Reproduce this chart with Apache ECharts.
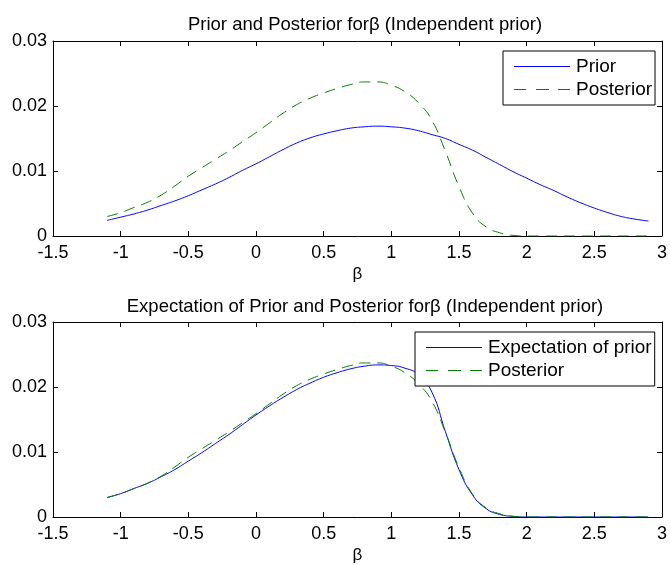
<!DOCTYPE html>
<html>
<head>
<meta charset="utf-8">
<script src="https://cdn.jsdelivr.net/npm/echarts@6/dist/echarts.min.js"></script>
<style>
  html, body { margin: 0; padding: 0; background: #fff; }
  #chart { width: 670px; height: 565px; }
</style>
</head>
<body>
<div id="chart"></div>
<script>
  // beta grid (x values)
  var betaGrid = [-1.1, -1.0, -0.9, -0.8, -0.7, -0.6, -0.5, -0.4, -0.3, -0.2, -0.1,
    0.0, 0.1, 0.2, 0.3, 0.4, 0.5, 0.6, 0.7, 0.8, 0.9,
    1.0, 1.1, 1.2, 1.3, 1.4, 1.5, 1.6, 1.7, 1.8, 1.9,
    2.0, 2.1, 2.2, 2.3, 2.4, 2.5, 2.6, 2.7, 2.8, 2.9]

  var priorVals = [0.0024, 0.0029, 0.0034, 0.0040, 0.0047, 0.0054, 0.0062, 0.0071, 0.0080, 0.0090, 0.0101,
    0.0111, 0.0122, 0.0133, 0.0143, 0.0151, 0.0157, 0.0162, 0.0166, 0.0168, 0.0169,
    0.0168, 0.0166, 0.0162, 0.0156, 0.0150, 0.0141, 0.0132, 0.0121, 0.0110, 0.0099,
    0.0089, 0.0079, 0.0070, 0.0060, 0.0051, 0.0043, 0.0036, 0.0030, 0.0026, 0.0023]

  var posteriorVals = [0.0030, 0.0036, 0.0044, 0.0052, 0.0063, 0.0077, 0.0092, 0.0105, 0.0118, 0.0131, 0.0145,
    0.0159, 0.0174, 0.0189, 0.0202, 0.0212, 0.0220, 0.0227, 0.0233, 0.0237, 0.0237,
    0.0232, 0.0222, 0.0205, 0.0178, 0.0130, 0.0076, 0.0035, 0.0014, 0.0005, 0.0001,
    0, 0, 0, 0, 0, 0, 0, 0, 0, 0]

  var expectVals = [0.0030, 0.0036, 0.0044, 0.0052, 0.0062, 0.0073, 0.0086, 0.0099, 0.0113, 0.0127, 0.0142,
    0.0157, 0.0171, 0.0184, 0.0196, 0.0206, 0.0215, 0.0222, 0.0228, 0.0232, 0.0234,
    0.0233, 0.0229, 0.0219, 0.0192, 0.0131, 0.0073, 0.0034, 0.0013, 0.0004, 0.0001,
    0, 0, 0, 0, 0, 0, 0, 0, 0, 0]

  var xTicks = { min: -1.5, max: 3, interval: 0.5 }
  var yTicks = { min: 0, max: 0.03, interval: 0.01 }

  var font = 'Liberation Sans, Arial, sans-serif'
  var blue = '#0000ff'
  var green = '#008000'
  var dash = [11, 7]
  // legend line samples, 56 x 1
  var solidIcon = 'path://M0,0h56v1h-56z'
  var dashIcon = 'path://M0,0h12v1h-12zM22,0h13v1h-13zM44,0h12v1h-12z'

  function pairs (ys) {
    return betaGrid.map(function (x, i) { return [x, ys[i]] })
  }

  // bottom/left axes with labels, top/right axes just for the box + ticks
  function xAxisFor (gridIndex, shown) {
    return {
      type: 'value',
      gridIndex: gridIndex,
      position: shown ? 'bottom' : 'top',
      min: xTicks.min,
      max: xTicks.max,
      interval: xTicks.interval,
      name: shown ? 'β' : '',
      nameLocation: 'middle',
      nameGap: 30,
      nameTextStyle: { color: '#000', fontSize: 17, fontFamily: font },
      axisLine: { onZero: false, lineStyle: { color: '#000', width: 1 } },
      axisTick: { inside: true, length: 5, lineStyle: { color: '#000' } },
      axisLabel: { show: shown, color: '#000', fontSize: 18, fontFamily: font, margin: 8 },
      splitLine: { show: false }
    }
  }
  function yAxisFor (gridIndex, shown) {
    return {
      type: 'value',
      gridIndex: gridIndex,
      position: shown ? 'left' : 'right',
      min: yTicks.min,
      max: yTicks.max,
      interval: yTicks.interval,
      axisLine: { onZero: false, lineStyle: { color: '#000', width: 1 } },
      axisTick: { inside: true, length: 5, lineStyle: { color: '#000' } },
      axisLabel: { show: shown, color: '#000', fontSize: 18, fontFamily: font, margin: 6 },
      splitLine: { show: false }
    }
  }
  function line (name, ys, axisIndex, color, dashed) {
    return {
      name: name,
      type: 'line',
      xAxisIndex: axisIndex,
      yAxisIndex: axisIndex,
      data: pairs(ys),
      symbol: 'none',
      smooth: 0.5,
      lineStyle: { color: color, width: 1, type: dashed ? dash : 'solid' },
      itemStyle: { color: color },
      animation: false
    }
  }
  function legendItem (name, color, dashed) {
    return {
      name: name,
      icon: dashed ? dashIcon : solidIcon,
      itemStyle: { color: color, borderWidth: 0 }
    }
  }
  function legendFor (items, left, top) {
    return {
      data: items,
      orient: 'vertical',
      left: left,
      top: top,
      itemWidth: 56,
      itemHeight: 1,
      itemGap: 4,
      symbolKeepAspect: false,
      padding: [6, 3, 6, 11],
      borderColor: '#000',
      borderWidth: 1,
      backgroundColor: '#fff',
      selectedMode: false,
      textStyle: { color: '#000', fontSize: 19, lineHeight: 19, fontFamily: font, padding: [0, 0, 0, 1] }
    }
  }

  var option = {
    backgroundColor: '#fff',
    animation: false,
    title: [
      {
        text: 'Prior and Posterior forβ (Independent prior)',
        left: 360,
        top: 10,
        textAlign: 'center',
        textStyle: { color: '#000', fontSize: 18.5, fontWeight: 'normal', fontFamily: font }
      },
      {
        text: 'Expectation of Prior and Posterior forβ (Independent prior)',
        left: 360,
        top: 292,
        textAlign: 'center',
        textStyle: { color: '#000', fontSize: 18.5, fontWeight: 'normal', fontFamily: font }
      }
    ],
    grid: [
      { left: 53, right: 4, top: 41, height: 195 },
      { left: 53, right: 4, top: 322, height: 195 }
    ],
    xAxis: [xAxisFor(0, true), xAxisFor(1, true), xAxisFor(0, false), xAxisFor(1, false)],
    yAxis: [yAxisFor(0, true), yAxisFor(1, true), yAxisFor(0, false), yAxisFor(1, false)],
    legend: [
      legendFor([legendItem('Prior', blue, false), legendItem('Posterior', green, true)], 503, 51),
      legendFor([legendItem('Expectation of prior', blue, false), legendItem('Posterior', green, true)], 415, 332)
    ],
    series: [
      line('Prior', priorVals, 0, blue, false),
      line('Posterior', posteriorVals, 0, green, true),
      line('Expectation of prior', expectVals, 1, blue, false),
      line('Posterior', posteriorVals, 1, green, true)
    ]
  }

  var chart = echarts.init(document.getElementById('chart'))
  chart.setOption(option)
</script>
</body>
</html>
